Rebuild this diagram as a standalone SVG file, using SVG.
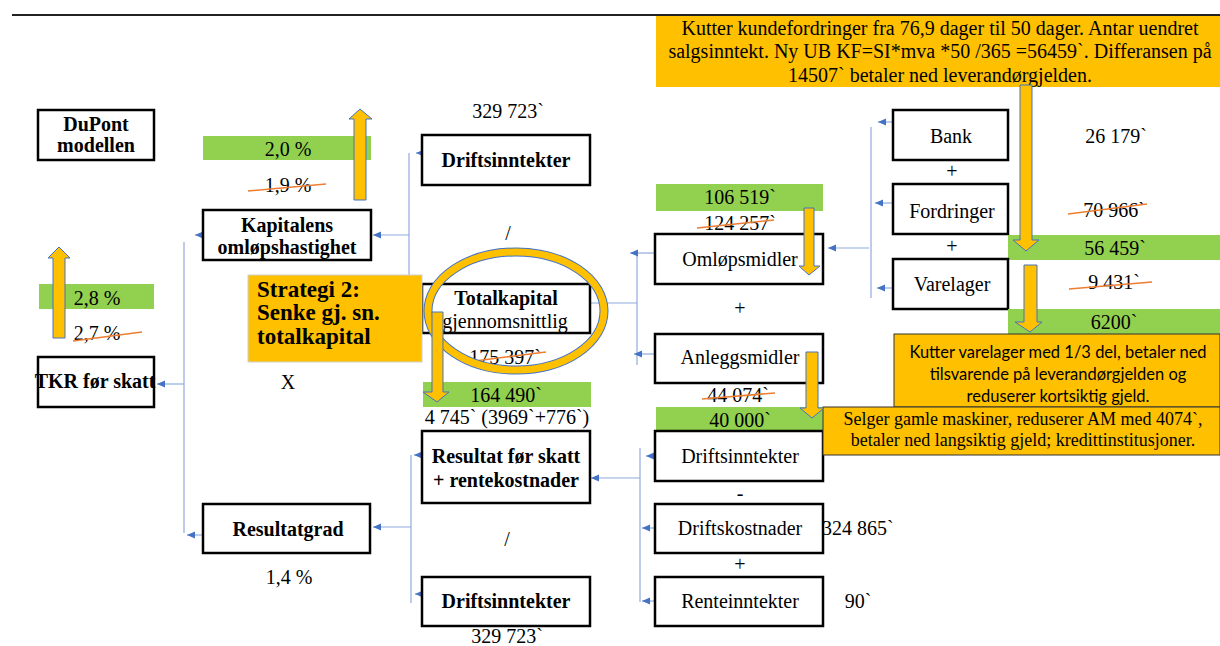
<svg xmlns="http://www.w3.org/2000/svg" width="1220" height="646" viewBox="0 0 1220 646" font-family="'Liberation Serif', 'DejaVu Serif', serif">
  <style>
    .box { fill: #ffffff; stroke: #000000; stroke-width: 2.5; }
    .bar { fill: #92D050; }
    .note { fill: #FFC000; }
    .conn { fill: none; stroke: #8FAADC; stroke-width: 1.2; }
    .strike { stroke: #ED7D31; stroke-width: 1.6; fill: none; }
    .barrow { fill: #FFC000; stroke: #4472C4; stroke-width: 1; }
    .b { font-weight: bold; font-size: 20px; text-anchor: middle; }
    .n { font-size: 20px; text-anchor: middle; }
    .sans { font-family: Lato, 'Liberation Sans', sans-serif; font-size: 16.5px; text-anchor: middle; }
  </style>
  <defs>
    <marker id="tip" markerUnits="userSpaceOnUse" markerWidth="9" markerHeight="8" refX="8" refY="3.5" orient="auto">
      <path d="M0,0 L8,3.5 L0,7 z" fill="#4472C4"/>
    </marker>
  </defs>

  <rect width="1220" height="646" fill="#ffffff"/>
  <!-- page rule -->
  <line x1="12" y1="15" x2="1220" y2="15" stroke="#222222" stroke-width="2"/>

  <!-- connectors -->
  <g id="connectors">
    <path class="conn" d="M184 242 L184 533"/>
    <path class="conn" marker-end="url(#tip)" d="M202 235 L195 235"/>
    <path class="conn" marker-end="url(#tip)" d="M184 384 L157 384"/>
    <path class="conn" marker-end="url(#tip)" d="M203 535 L187 535"/>

    <path class="conn" d="M409 153 L409 310"/>
    <path class="conn" marker-end="url(#tip)" d="M422 153 L416 153"/>
    <path class="conn" marker-end="url(#tip)" d="M409 235 L373 235"/>
    <path class="conn" marker-end="url(#tip)" d="M422 310 L415 310"/>

    <path class="conn" d="M411 455 L411 603"/>
    <path class="conn" marker-end="url(#tip)" d="M422 455 L414 455"/>
    <path class="conn" marker-end="url(#tip)" d="M422 594 L415 594"/>
    <path class="conn" marker-end="url(#tip)" d="M411 527 L373 527"/>

    <path class="conn" d="M637 253 L637 365"/>
    <path class="conn" marker-end="url(#tip)" d="M655 253 L630 253"/>
    <path class="conn" marker-end="url(#tip)" d="M655 354 L634 354"/>
    <path class="conn" d="M590 303 L637 303"/>

    <path class="conn" d="M871 127 L871 298"/>
    <path class="conn" marker-end="url(#tip)" d="M893 122 L878 122"/>
    <path class="conn" marker-end="url(#tip)" d="M893 203 L875 203"/>
    <path class="conn" marker-end="url(#tip)" d="M893 288 L877 288"/>
    <path class="conn" marker-end="url(#tip)" d="M869 248 L828 248"/>

    <path class="conn" d="M640 448 L640 602"/>
    <path class="conn" marker-end="url(#tip)" d="M655 456 L646 456"/>
    <path class="conn" marker-end="url(#tip)" d="M655 528 L642 528"/>
    <path class="conn" marker-end="url(#tip)" d="M655 601 L642 601"/>
    <path class="conn" marker-end="url(#tip)" d="M640 478 L591 478"/>
  </g>

  <!-- top note on receivables -->
  <g id="note-kundefordringer">
    <rect class="note" x="656" y="16" width="564" height="71"/>
    <text x="940" y="35" font-size="20" text-anchor="middle">Kutter kundefordringer fra 76,9 dager til 50 dager. Antar uendret</text>
    <text x="940" y="58" font-size="20" text-anchor="middle">salgsinntekt. Ny UB KF=SI*mva *50 /365 =56459`. Differansen på</text>
    <text x="940" y="82" font-size="20" text-anchor="middle">14507` betaler ned leverandørgjelden.</text>
  </g>

  <!-- left column -->
  <g id="dupont">
    <rect class="box" x="38" y="110" width="116" height="50"/>
    <text class="b" x="96" y="131" font-size="18">DuPont</text>
    <text class="b" x="96" y="152" font-size="18">modellen</text>
  </g>

  <g id="tkr">
    <rect class="bar" x="39" y="284" width="115" height="25"/>
    <text class="n" x="97" y="305">2,8 %</text>
    <text class="n" x="97" y="340">2,7 %</text>
    <line class="strike" x1="73" y1="341" x2="142" y2="332"/>
    <rect class="box" x="38" y="357" width="116" height="50"/>
    <text class="b" x="95" y="388" font-size="17.5">TKR før skatt</text>
  </g>

  <g id="kapitalens-omlopshastighet">
    <rect class="bar" x="203" y="136" width="168" height="24"/>
    <text class="n" x="288" y="156">2,0 %</text>
    <text class="n" x="288" y="192">1,9 %</text>
    <line class="strike" x1="248" y1="191" x2="326" y2="184"/>
    <rect class="box" x="203" y="210" width="168" height="50"/>
    <text class="b" x="287" y="232">Kapitalens</text>
    <text class="b" x="287" y="254">omløpshastighet</text>
  </g>

  <text class="n" x="288" y="389">X</text>

  <g id="resultatgrad">
    <rect class="box" x="203" y="504" width="167" height="49"/>
    <text class="b" x="288" y="536">Resultatgrad</text>
    <text class="n" x="289" y="584">1,4 %</text>
  </g>

  <!-- middle column -->
  <g id="driftsinntekter-1">
    <text class="n" x="508" y="118">329 723`</text>
    <rect class="box" x="422" y="135" width="168" height="50"/>
    <text class="b" x="506" y="167">Driftsinntekter</text>
  </g>

  <text class="n" x="508" y="240">/</text>

  <g id="totalkapital">
    <rect class="box" x="422" y="284" width="168" height="49"/>
    <text class="b" x="506" y="305">Totalkapital</text>
    <text class="n" x="505" y="328">gjennomsnittlig</text>
    <text class="n" x="505" y="364">175 397`</text>
    <line class="strike" x1="467" y1="362" x2="546" y2="352"/>
    <rect class="bar" x="423" y="382" width="168" height="25"/>
    <text class="n" x="506" y="402">164 490`</text>
    <text class="n" x="507" y="424">4 745` (3969`+776`)</text>
  </g>

  <g id="strategi">
    <rect class="note" x="248" y="275" width="174" height="87" stroke="#d0d0d0" stroke-width="1"/>
    <text x="257" y="297" font-size="23" font-weight="bold">Strategi 2:</text>
    <text x="257" y="320" font-size="23" font-weight="bold">Senke gj. sn.</text>
    <text x="257" y="344" font-size="23" font-weight="bold">totalkapital</text>
  </g>

  <g id="resultat-for-skatt">
    <rect class="box" x="422" y="431" width="168" height="72"/>
    <text class="b" x="506" y="463">Resultat før skatt</text>
    <text class="b" x="506" y="487">+ rentekostnader</text>
  </g>

  <text class="n" x="507" y="546">/</text>

  <g id="driftsinntekter-2">
    <rect class="box" x="422" y="577" width="168" height="49"/>
    <text class="b" x="506" y="608">Driftsinntekter</text>
    <text class="n" x="507" y="643">329 723`</text>
  </g>

  <!-- right column -->
  <g id="omlopsmidler">
    <rect class="bar" x="656" y="184" width="167" height="27"/>
    <text class="n" x="740" y="204">106 519`</text>
    <text class="n" x="740" y="230">124 257`</text>
    <line class="strike" x1="697" y1="228" x2="774" y2="220"/>
    <rect class="box" x="655" y="234" width="168" height="50"/>
    <text class="n" x="740" y="266">Omløpsmidler</text>
  </g>

  <text class="n" x="740" y="315">+</text>

  <g id="anleggsmidler">
    <rect class="box" x="655" y="334" width="168" height="49"/>
    <text class="n" x="740" y="364">Anleggsmidler</text>
    <text class="n" x="738" y="402">44 074`</text>
    <line class="strike" x1="702" y1="399" x2="775" y2="393"/>
    <rect class="bar" x="656" y="407" width="167" height="25"/>
    <text class="n" x="740" y="427">40 000`</text>
  </g>

  <g id="driftsinntekter-3">
    <rect class="box" x="655" y="431" width="168" height="50"/>
    <text class="n" x="740" y="463">Driftsinntekter</text>
  </g>
  <text class="n" x="740" y="500">-</text>
  <g id="driftskostnader">
    <rect class="box" x="655" y="504" width="168" height="49"/>
    <text class="n" x="740" y="535">Driftskostnader</text>
    <text x="822" y="535" font-size="20">324 865`</text>
  </g>
  <text class="n" x="740" y="571">+</text>
  <g id="renteinntekter">
    <rect class="box" x="655" y="577" width="168" height="49"/>
    <text class="n" x="740" y="608">Renteinntekter</text>
    <text class="n" x="858" y="608">90`</text>
  </g>

  <!-- current assets breakdown -->
  <g id="bank">
    <rect class="box" x="893" y="110" width="115" height="50"/>
    <text class="n" x="951" y="143">Bank</text>
    <text class="n" x="1116" y="143">26 179`</text>
  </g>
  <text class="n" x="952" y="178">+</text>
  <g id="fordringer">
    <rect class="box" x="893" y="184" width="115" height="50"/>
    <text class="n" x="952" y="218">Fordringer</text>
    <text class="n" x="1114" y="217">70 966`</text>
    <line class="strike" x1="1068" y1="214" x2="1147" y2="204"/>
    <rect class="bar" x="1008" y="235" width="212" height="25"/>
    <text class="n" x="1115" y="255">56 459`</text>
  </g>
  <text class="n" x="952" y="253">+</text>
  <g id="varelager">
    <rect class="box" x="893" y="259" width="115" height="50"/>
    <text class="n" x="952" y="291">Varelager</text>
    <text class="n" x="1114" y="289">9 431`</text>
    <line class="strike" x1="1069" y1="289" x2="1152" y2="282"/>
    <rect class="bar" x="1008" y="309" width="212" height="25"/>
    <text class="n" x="1114" y="329">6200`</text>
  </g>

  <g id="note-varelager">
    <rect class="note" x="894" y="334" width="326" height="73" stroke="#333333" stroke-width="1"/>
    <text class="sans" x="1058" y="358">Kutter varelager med 1/3 del, betaler ned</text>
    <text class="sans" x="1058" y="380">tilsvarende på leverandørgjelden og</text>
    <text class="sans" x="1058" y="402">reduserer kortsiktig gjeld.</text>
  </g>

  <g id="note-anleggsmidler">
    <rect class="note" x="823" y="407" width="397" height="48" stroke="#333333" stroke-width="1"/>
    <text x="1023" y="425" font-size="18" text-anchor="middle">Selger gamle maskiner, reduserer AM med 4074`,</text>
    <text x="1023" y="446" font-size="18" text-anchor="middle">betaler ned langsiktig gjeld; kredittinstitusjoner.</text>
  </g>

  <!-- emphasis ring around average total capital -->
  <g id="ring">
    <ellipse cx="516" cy="311" rx="88" ry="59" fill="none" stroke="#4472C4" stroke-width="9"/>
    <ellipse cx="516" cy="311" rx="88" ry="59" fill="none" stroke="#FFC000" stroke-width="7"/>
  </g>

  <!-- block arrows showing direction of change -->
  <g id="block-arrows">
    <path class="barrow" d="M354 200 L354 119 L349 119 L360 109 L372 119 L366 119 L366 200 Z"/>
    <path class="barrow" d="M53 338 L53 258 L48 258 L59 247 L70 258 L65 258 L65 338 Z"/>
    <path class="barrow" d="M432 312 L443 312 L443 392 L449 392 L437 402 L423 392 L432 392 Z"/>
    <path class="barrow" d="M804 208 L814 208 L814 266 L820 266 L809 275 L799 266 L804 266 Z"/>
    <path class="barrow" d="M806 352 L818 352 L818 408 L824 408 L812 418 L800 408 L806 408 Z"/>
    <path class="barrow" d="M1020 85 L1032 85 L1032 240 L1039 240 L1026 251 L1013 240 L1020 240 Z"/>
    <path class="barrow" d="M1024 265 L1037 265 L1037 322 L1042 322 L1030 332 L1015 322 L1024 322 Z"/>
  </g>
</svg>
